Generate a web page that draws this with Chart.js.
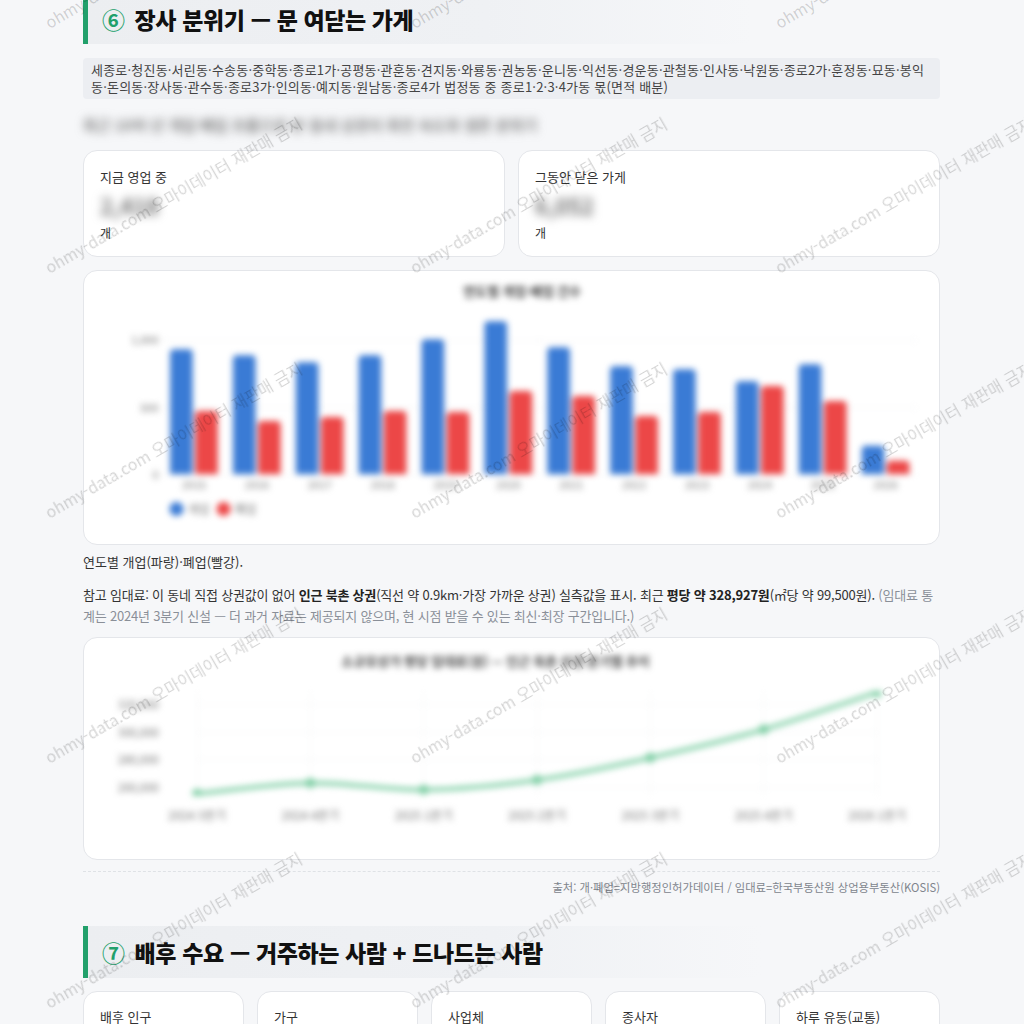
<!DOCTYPE html>
<html lang="ko">
<head>
<meta charset="utf-8">
<script src="https://cdn.jsdelivr.net/npm/chart.js@4.4.0/dist/chart.umd.min.js"></script>
<style>
  html, body { margin: 0; padding: 0; }
  body {
    background: #f6f7f9;
    font-family: "Noto Sans CJK KR", "Noto Sans", sans-serif;
    color: #222;
    width: 1024px; height: 1024px; overflow: hidden; position: relative;
  }
  .wrap { margin: -6px 0 0 83px; width: 857px; }
  .sec {
    height: 50px; margin: 0; padding-left: 14px;
    border-left: 5px solid #22a06b;
    background: linear-gradient(90deg, #eceef1 0%, #eff1f4 60%, rgba(246,247,249,0) 100%);
    width: 650px;
    font-size: 23px; font-weight: 900; color: #111;
    display: flex; align-items: center; letter-spacing: -0.4px;
  }
  .sec .num { color: #22a06b; margin-right: 10px; font-weight: 700; }
  .tags {
    margin-top: 14px; background: #eceef2; border-radius: 4px;
    padding: 3px 8px 4px; font-size: 13px; line-height: 17px; color: #444; letter-spacing: 0.2px;
  }
  .sub { margin-top: 14px; height: 24px; line-height: 24px; font-size: 15px; font-weight: 500; color: #666; filter: blur(5px); }
  .stats { margin-top: 13px; display: flex; gap: 13px; }
  .stat {
    flex: 1; height: 107px; box-sizing: border-box; background: #fff;
    border: 1px solid #e4e6ea; border-radius: 14px; padding: 16px 16px 0;
  }
  .stat .lab { font-size: 13px; line-height: 20px; color: #333; }
  .stat .val { margin-top: 4px; font-size: 22px; line-height: 28px; font-weight: 700; color: #6f6f6f; filter: blur(5px); }
  .stat .unit { margin-top: 5px; font-size: 12px; line-height: 18px; color: #333; }
  .card {
    background: #fff; border: 1px solid #e4e6ea; border-radius: 14px;
    box-sizing: border-box; padding: 8px 16px;
  }
  .card .box { position: relative; width: 100%; height: 100%; }
  .card canvas { filter: blur(3px); }
  #c1 { margin-top: 13px; height: 275px; }
  #c2 { margin-top: 11px; height: 223px; }
  .cap { margin-top: 7px; font-size: 13px; line-height: 20px; color: #333; }
  .para { margin-top: 12px; font-size: 13px; line-height: 21px; color: #333; letter-spacing: -0.2px; }
  .para b { font-weight: 700; color: #222; }
  .para .mute { color: #8a8f98; }
  .divider { margin-top: 11px; border-top: 1px dashed #dfe2e6; }
  .src { margin-top: 7px; text-align: right; font-size: 11.3px; line-height: 16px; color: #80858d; }
  .sec2 { margin-top: 31px; height: 52px; width: 660px; }
  .cards5 { margin-top: 13px; display: flex; gap: 13px; }
  .cards5 .stat { height: 110px; padding-top: 15px; }
  .wm {
    position: absolute; white-space: nowrap; font-size: 16px; line-height: 16px;
    color: rgba(0,0,0,0.17); transform-origin: 0 100%; transform: rotate(-30deg);
    pointer-events: none; z-index: 20;
  }
</style>
</head>
<body>
<div class="wrap">
  <h2 class="sec"><span class="num">⑥</span>장사 분위기 — 문 여닫는 가게</h2>
  <div class="tags">세종로·청진동·서린동·수송동·중학동·종로1가·공평동·관훈동·견지동·와룡동·권농동·운니동·익선동·경운동·관철동·인사동·낙원동·종로2가·훈정동·묘동·봉익동·돈의동·장사동·관수동·종로3가·인의동·예지동·원남동·종로4가 법정동 중 종로1·2·3·4가동 몫(면적 배분)</div>
  <div class="sub">최근 10여 년 개업·폐업 흐름으로 본 동네 상권의 회전 속도와 생존 분위기</div>
  <div class="stats">
    <div class="stat"><div class="lab">지금 영업 중</div><div class="val">2,418</div><div class="unit">개</div></div>
    <div class="stat"><div class="lab">그동안 닫은 가게</div><div class="val">6,052</div><div class="unit">개</div></div>
  </div>
  <div class="card" id="c1"><div class="box"><canvas id="barChart"></canvas></div></div>
  <div class="cap">연도별 개업(파랑)·폐업(빨강).</div>
  <div class="para">참고 임대료: 이 동네 직접 상권값이 없어 <b>인근 북촌 상권</b>(직선 약 0.9km·가장 가까운 상권) 실측값을 표시. 최근 <b>평당 약 328,927원</b>(㎡당 약 99,500원). <span class="mute">(임대료 통계는 2024년 3분기 신설 — 더 과거 자료는 제공되지 않으며, 현 시점 받을 수 있는 최신·최장 구간입니다.)</span></div>
  <div class="card" id="c2"><div class="box"><canvas id="rentChart"></canvas></div></div>
  <div class="divider"></div>
  <div class="src">출처: 개·폐업=지방행정인허가데이터 / 임대료=한국부동산원 상업용부동산(KOSIS)</div>
  <h2 class="sec sec2"><span class="num">⑦</span>배후 수요 — 거주하는 사람 + 드나드는 사람</h2>
  <div class="cards5">
    <div class="stat"><div class="lab">배후 인구</div></div>
    <div class="stat"><div class="lab">가구</div></div>
    <div class="stat"><div class="lab">사업체</div></div>
    <div class="stat"><div class="lab">종사자</div></div>
    <div class="stat"><div class="lab">하루 유동(교통)</div></div>
  </div>
</div>
<script>
// 연도별 개업/폐업 (건)
const years = ['2015', '2016', '2017', '2018', '2019', '2020', '2021', '2022', '2023', '2024', '2025', '2026'];
const opened = [933, 889, 837, 889, 1007, 1141, 948, 807, 785, 696, 822, 215];
const closed = [474, 400, 430, 474, 467, 622, 585, 437, 467, 659, 548, 104];

// 인근 북촌 상권 평당 임대료 (원)
const quarters = ['2024 3분기', '2024 4분기', '2025 1분기', '2025 2분기', '2025 3분기', '2025 4분기', '2026 1분기'];
const rent = [255400, 263200, 258200, 265300, 281500, 302000, 328927];
const rentTicks = [260000, 280000, 300000, 320000];

Chart.defaults.font.family = "'Noto Sans CJK KR', 'Noto Sans', sans-serif";
Chart.defaults.font.size = 11;
Chart.defaults.color = '#777';

new Chart(document.getElementById('barChart'), {
  type: 'bar',
  data: {
    labels: years,
    datasets: [
      { label: '개업', data: opened, backgroundColor: '#3a7bd5', borderRadius: 4 },
      { label: '폐업', data: closed, backgroundColor: '#ec4747', borderRadius: 4 }
    ]
  },
  options: {
    responsive: true,
    maintainAspectRatio: false,
    animation: false,
    layout: { padding: { left: 27, right: 6, bottom: 11 } },
    plugins: {
      title: { display: true, text: '연도별 개업·폐업 건수', color: '#444', font: { size: 13, weight: '600' }, padding: { top: 4, bottom: 8 } },
      legend: {
        position: 'bottom', align: 'start', fullSize: false,
        labels: { usePointStyle: true, pointStyle: 'circle', boxWidth: 10, boxHeight: 10, color: '#777', font: { size: 12 }, padding: 9 }
      }
    },
    scales: {
      x: { grid: { display: false, drawTicks: false }, border: { display: false }, ticks: { padding: 3 } },
      y: {
        min: 0, max: 1250,
        border: { display: false },
        grid: { color: '#f1f2f4', drawTicks: false },
        ticks: { stepSize: 250, padding: 4, autoSkip: false, callback: v => v % 500 === 0 ? v.toLocaleString() : null }
      }
    }
  }
});

new Chart(document.getElementById('rentChart'), {
  type: 'line',
  data: {
    labels: quarters,
    datasets: [{
      label: '평당 임대료',
      data: rent,
      borderColor: '#7fcfa5',
      backgroundColor: '#6cc597',
      borderWidth: 4,
      pointRadius: 3,
      tension: 0.35,
      fill: false
    }]
  },
  options: {
    responsive: true,
    maintainAspectRatio: false,
    animation: false,
    layout: { padding: { left: 14, right: 46, bottom: 15 } },
    plugins: {
      title: { display: true, text: '소규모상가 평당 임대료(원) — 인근 북촌 상권 분기별 추이', color: '#444', font: { size: 13, weight: '600' }, padding: { top: 4, bottom: 22 } },
      legend: { display: false }
    },
    scales: {
      x: {
        grid: { color: '#f3f4f6', drawTicks: false }, border: { display: false },
        ticks: { padding: 13, font: { size: 12 } }
      },
      y: {
        min: 254000, max: 330000,
        border: { display: false },
        grid: { color: '#f3f4f6', drawTicks: false },
        afterBuildTicks: axis => { axis.ticks = rentTicks.map(v => ({ value: v })); },
        afterFit: axis => { axis.width = 83; },
        ticks: { padding: 38, autoSkip: false, font: { size: 11.5 }, callback: v => v.toLocaleString() }
      }
    }
  }
});

// 워터마크
for (let i = 0; i < 3; i++) {
  for (let j = 0; j < 5; j++) {
    const d = document.createElement('div');
    d.className = 'wm';
    d.textContent = 'ohmy-data.com 오마이데이터 재판매 금지';
    d.style.left = (50 + 365 * i) + 'px';
    d.style.top = (30 + 245 * j - 16) + 'px';
    document.body.appendChild(d);
  }
}
</script>
</body>
</html>
